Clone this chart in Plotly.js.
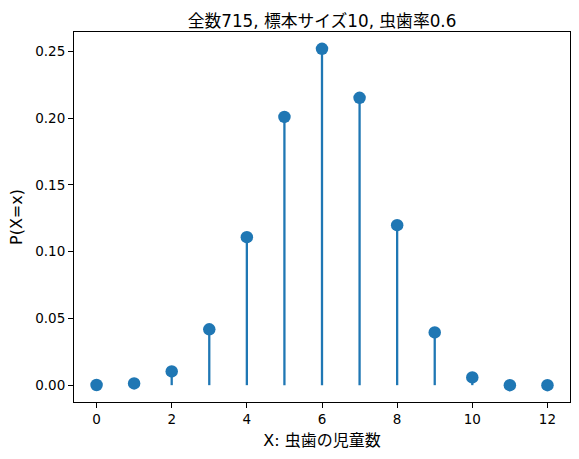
<!DOCTYPE html>
<html>
<head>
<meta charset="utf-8">
<script src="https://cdn.plot.ly/plotly-3.0.1.min.js"></script>
<style>html,body{margin:0;padding:0;background:#fff;}#chart{width:579px;height:459px;}</style>
</head>
<body>
<div id="chart"></div>
<script>
const xValues = [0, 1, 2, 3, 4, 5, 6, 7, 8, 9, 10, 11, 12];
const probabilities = [0.0001, 0.0013, 0.0103, 0.0418, 0.1108, 0.2008, 0.2518, 0.2151, 0.1198, 0.0395, 0.0058, 0.0000, 0.0000];
const xTickVals = [0, 2, 4, 6, 8, 10, 12];
const yTickVals = [0, 0.05, 0.10, 0.15, 0.20, 0.25];
const yTickText = ["0.00", "0.05", "0.10", "0.15", "0.20", "0.25"];

const color = '#1f77b4';
const fontFamily = '"DejaVu Sans", "Noto Sans CJK JP", sans-serif';

const points = {
  type: 'scatter',
  mode: 'markers',
  x: xValues,
  y: probabilities,
  marker: {color: color, size: 12.5},
  error_y: {
    type: 'data', symmetric: false,
    array: probabilities.map(() => 0),
    arrayminus: probabilities,
    color: color, thickness: 2.3, width: 0
  },
  cliponaxis: false,
  showlegend: false
};

const axisCommon = {
  showline: true, mirror: true, linecolor: '#000', linewidth: 1,
  ticks: 'outside', ticklen: 5, tickwidth: 1, tickcolor: '#000',
  showgrid: false, zeroline: false,
  tickfont: {family: fontFamily, size: 13.5, color: '#000'}
};

const layout = {
  width: 579, height: 459,
  margin: {l: 74, r: 9, t: 32, b: 57},
  paper_bgcolor: '#fff', plot_bgcolor: '#fff',
  title: {text: '全数715, 標本サイズ10, 虫歯率0.6', font: {family: fontFamily, size: 16.8, color: '#000'},
          xref: 'paper', x: 0.5, xanchor: 'center', y: 1, yref: 'paper', yanchor: 'bottom', pad: {b: 5}},
  xaxis: Object.assign({}, axisCommon, {
    range: [-0.6, 12.6], tickvals: xTickVals,
    title: {text: 'X: 虫歯の児童数', font: {family: fontFamily, size: 16, color: '#000'}, standoff: 8}
  }),
  yaxis: Object.assign({}, axisCommon, {
    range: [-0.0126, 0.2644], tickvals: yTickVals, ticktext: yTickText,
    title: {text: 'P(X=x)', font: {family: fontFamily, size: 16, color: '#000'}, standoff: 8}
  })
};

Plotly.newPlot('chart', [points], layout, {displayModeBar: false, staticPlot: true});
</script>
</body>
</html>
